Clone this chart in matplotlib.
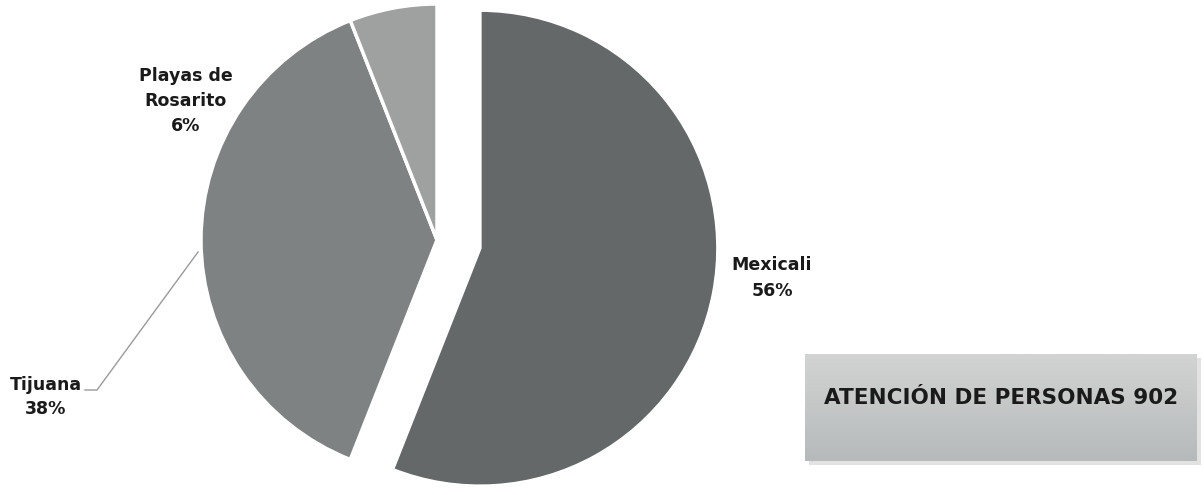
import matplotlib.pyplot as plt
import numpy as np
from matplotlib.patches import Rectangle
from matplotlib.colors import LinearSegmentedColormap

# Data: people attended by municipality (total 902)
municipios = ['Mexicali', 'Tijuana', 'Playas de\nRosarito']
personas = [505, 343, 54]
colores = ['#656868', '#7f8282', '#9fa1a1']
total = sum(personas)

W, H = 1204, 495
fig = plt.figure(figsize=(W / 100, H / 100), dpi=100)
ax = fig.add_axes([0, 0, 1, 1])
ax.set_xlim(0, W)
ax.set_ylim(0, H)
ax.set_aspect('equal')
ax.axis('off')

# Pie (pixel coords, y up); explode is in data units here
cx, cy, r = 437, H - 240, 236
wedges, _ = ax.pie(personas, colors=colores, startangle=90, counterclock=False,
                   explode=[0.185 * r, 0, 0], center=(cx, cy), radius=r,
                   wedgeprops=dict(edgecolor='white', linewidth=2.5))
# a touch bigger for the front slice, as in the original
wedges[0].set_radius(r + 2)

pct = [round(100 * v / total) for v in personas]
font = dict(fontsize=12.5, fontweight='bold', color='#1a1a1a', ha='center',
            va='center', linespacing=1.5, family='DejaVu Sans')

ax.text(772, H - 278, f'{municipios[0]}\n{pct[0]}%', **font)
ax.text(46, H - 397, f'{municipios[1]}\n{pct[1]}%', **font)
ax.text(186, H - 101, f'{municipios[2]}\n{pct[2]}%', **font)

# Leader line for Tijuana
ax.plot([85, 97, 198], [H - 390, H - 390, H - 252], color='#9a9a9a', lw=1)

# Total box with soft shadow and light gradient
ax.add_patch(Rectangle((809, H - 465), 392, 107, facecolor='#e2e2e2',
                       edgecolor='none', zorder=2))
cmap = LinearSegmentedColormap.from_list('caja', ['#d2d4d4', '#b7baba'])
grad = np.linspace(0, 1, 100).reshape(-1, 1)
ax.imshow(grad, extent=(805, 1197, H - 461, H - 354), cmap=cmap,
          aspect='auto', zorder=3)
ax.text(1001, H - 398, f'ATENCIÓN DE PERSONAS {total}', fontsize=15.5,
        fontweight='bold', color='#1a1a1a', ha='center', va='center',
        family='DejaVu Sans', zorder=4)
ax.set_xlim(0, W)
ax.set_ylim(0, H)

fig.savefig('out.png', dpi=100)
